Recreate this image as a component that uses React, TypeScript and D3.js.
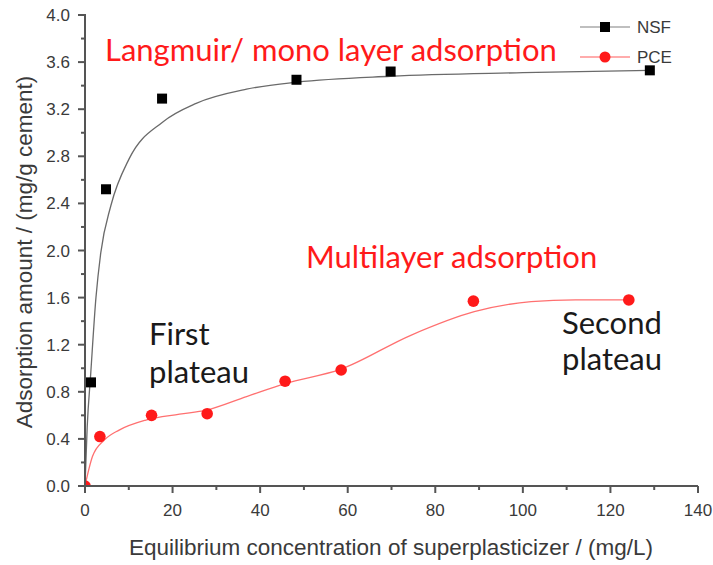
import React from "react";
import * as d3 from "d3";

// ---- data ----
const nsfX = [1.37, 4.8, 17.6, 48.3, 69.8, 129.0];
const nsfY = [0.88, 2.52, 3.29, 3.45, 3.52, 3.53];
const pceX = [0, 3.4, 15.2, 27.9, 45.7, 58.5, 88.7, 124.2];
const pceY = [0, 0.42, 0.6, 0.614, 0.89, 0.985, 1.57, 1.58];

// fitted curves as drawn in the reference
const nsfFitX = [0, 0.5, 1.3, 2.5, 3.6, 5.9, 10.1, 17.7, 25.4, 36.9, 48.4, 69.8, 100, 129.0];
const nsfFitY = [0, 0.5, 0.95, 1.6, 1.98, 2.38, 2.78, 3.09, 3.25, 3.37, 3.43, 3.48, 3.51, 3.53];
const pceFitX = [0, 1.7, 4.4, 7.8, 13.9, 21.6, 27.7, 36.9, 45.7, 58.3, 74.4, 88.9, 101.9, 112, 124.2];
const pceFitY = [0, 0.25, 0.39, 0.475, 0.56, 0.61, 0.645, 0.76, 0.87, 0.99, 1.28, 1.48, 1.565, 1.58, 1.58];

const xTicks = [0, 20, 40, 60, 80, 100, 120, 140];
const xMinor = [10, 30, 50, 70, 90, 110, 130];
const yTicks = [0, 0.4, 0.8, 1.2, 1.6, 2.0, 2.4, 2.8, 3.2, 3.6, 4.0];
const yMinor = [0.2, 0.6, 1.0, 1.4, 1.8, 2.2, 2.6, 3.0, 3.4, 3.8];

const seriesNames = ["NSF", "PCE"];

const W = 713;
const H = 565;

export default function App() {
  const x = d3.scaleLinear().domain([0, 140]).range([85, 698]);
  const y = d3.scaleLinear().domain([0, 4]).range([486, 15]);

  const line = d3
    .line<[number, number]>()
    .x((d) => x(d[0]))
    .y((d) => y(d[1]))
    .curve(d3.curveMonotoneX);

  const nsfFit = nsfFitX.map((v, i) => [v, nsfFitY[i]] as [number, number]);
  const pceFit = pceFitX.map((v, i) => [v, pceFitY[i]] as [number, number]);

  const axisColor = "#555";
  const tickText = "#3a3a3a";
  const red = "#ff1a1a";
  const sq = 10;

  return (
    <svg
      width={W}
      height={H}
      style={{ position: "absolute", left: 0, top: 0, background: "#fff" }}
      fontFamily="'Liberation Sans', Arial, sans-serif"
    >
      <defs>
        <clipPath id="plot">
          <rect x={x(0)} y={0} width={x(140) - x(0) + 10} height={y(0)} />
        </clipPath>
      </defs>

      {/* fitted curves */}
      <path d={line(nsfFit) || ""} fill="none" stroke="#6a6a6a" strokeWidth={1.3} />
      <path d={line(pceFit) || ""} fill="none" stroke="#ff7070" strokeWidth={1.3} />

      {/* markers */}
      <g clipPath="url(#plot)">
        {pceX.map((v, i) => (
          <circle key={"p" + i} cx={x(v)} cy={y(pceY[i])} r={5.8} fill={red} />
        ))}
      </g>
      {nsfX.map((v, i) => (
        <rect
          key={"n" + i}
          x={x(v) - sq / 2}
          y={y(nsfY[i]) - sq / 2}
          width={sq}
          height={sq}
          fill="#000"
        />
      ))}

      {/* axes */}
      <line x1={x(0)} x2={x(140)} y1={y(0)} y2={y(0)} stroke={axisColor} strokeWidth={2} />
      <line x1={x(0)} x2={x(0)} y1={y(0)} y2={y(4) - 1} stroke={axisColor} strokeWidth={2} />
      {xTicks.map((t) => (
        <g key={"xt" + t}>
          <line x1={x(t)} x2={x(t)} y1={y(0)} y2={y(0) + 7} stroke={axisColor} strokeWidth={2} />
          <text x={x(t)} y={516} textAnchor="middle" fontSize={17} fill={tickText}>
            {t}
          </text>
        </g>
      ))}
      {xMinor.map((t) => (
        <line key={"xm" + t} x1={x(t)} x2={x(t)} y1={y(0)} y2={y(0) + 4} stroke={axisColor} strokeWidth={2} />
      ))}
      {yTicks.map((t) => (
        <g key={"yt" + t}>
          <line x1={x(0) - 7} x2={x(0)} y1={y(t)} y2={y(t)} stroke={axisColor} strokeWidth={2} />
          <text x={70} y={y(t) + 6} textAnchor="end" fontSize={17} fill={tickText}>
            {t.toFixed(1)}
          </text>
        </g>
      ))}
      {yMinor.map((t) => (
        <line key={"ym" + t} x1={x(0) - 4} x2={x(0)} y1={y(t)} y2={y(t)} stroke={axisColor} strokeWidth={2} />
      ))}

      {/* axis titles */}
      <text x={391} y={555} textAnchor="middle" fontSize={22.5} fill={tickText}>
        Equilibrium concentration of superplasticizer / (mg/L)
      </text>
      <text
        transform={`translate(32, ${252}) rotate(-90)`}
        textAnchor="middle"
        fontSize={22.5}
        fill={tickText}
      >
        Adsorption amount / (mg/g cement)
      </text>

      {/* legend */}
      <g fontSize={17} fill={tickText}>
        <line x1={580} x2={630} y1={27} y2={27} stroke="#aaa" strokeWidth={1.5} />
        <rect x={605 - 5} y={27 - 5} width={10} height={10} fill="#000" />
        <text x={637} y={33}>{seriesNames[0]}</text>
        <line x1={580} x2={630} y1={57} y2={57} stroke="#ff9090" strokeWidth={1.5} />
        <circle cx={605} cy={57} r={5.5} fill={red} />
        <text x={637} y={63}>{seriesNames[1]}</text>
      </g>

      {/* annotations */}
      <g fontFamily="Lato, 'Open Sans', sans-serif" fontSize={31}>
        <text x={105} y={61} fill={red}>Langmuir/ mono layer adsorption</text>
        <text x={306} y={268} fill={red}>Multilayer adsorption</text>
        <text x={149} y={345} fill="#1a1a1a">First</text>
        <text x={149} y={383} fill="#1a1a1a">plateau</text>
        <text x={562} y={334} fill="#1a1a1a">Second</text>
        <text x={562} y={370} fill="#1a1a1a">plateau</text>
      </g>
    </svg>
  );
}
